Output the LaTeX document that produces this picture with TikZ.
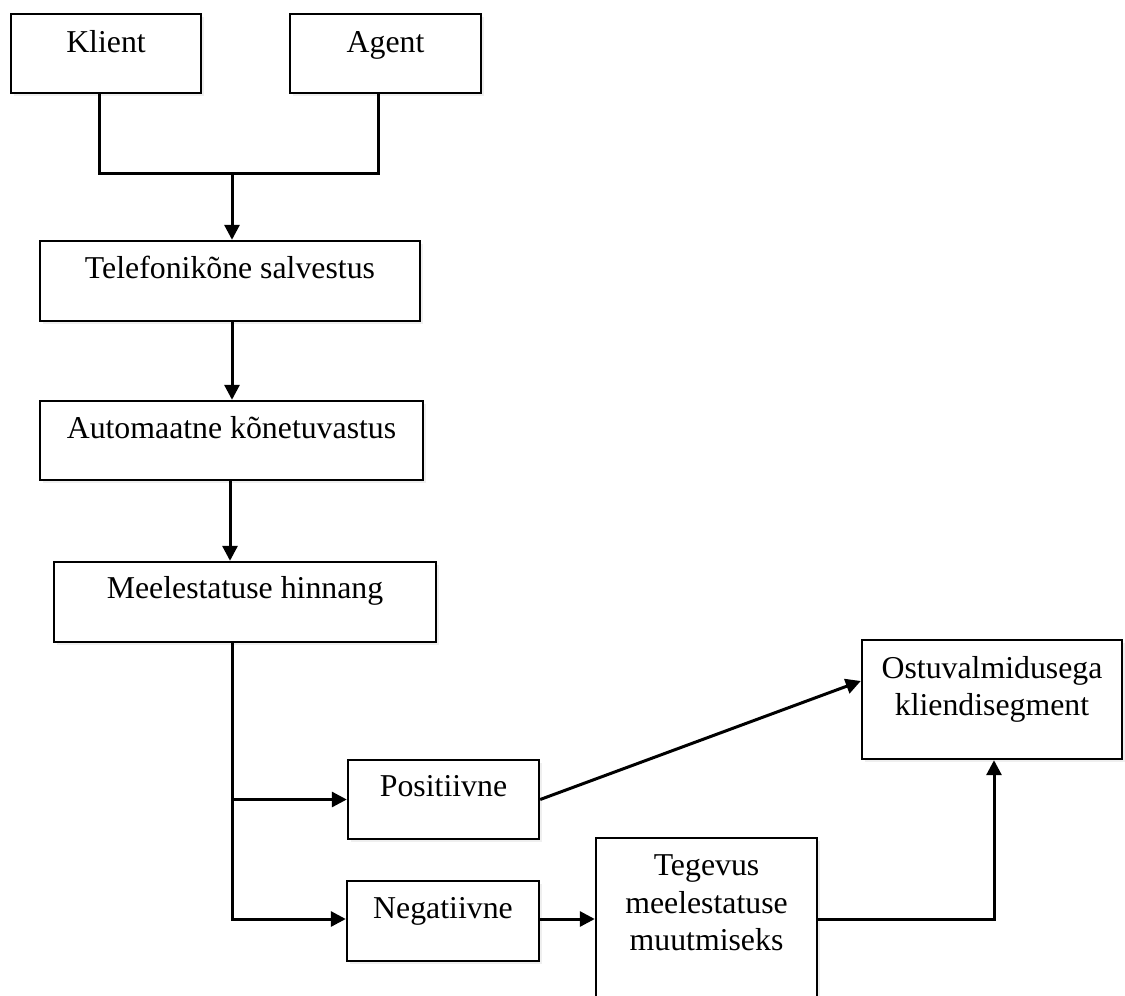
\documentclass[tikz,border=0pt]{standalone}
\usepackage{fontspec}
\setmainfont{Liberation Serif}
\usetikzlibrary{arrows.meta,shadows}
\begin{document}
\begin{tikzpicture}[x=1pt,y=-1pt,
  box/.style={draw,line width=2.4pt,rectangle,inner sep=0pt,fill=white,
    drop shadow={opacity=0.12,shadow xshift=3pt,shadow yshift=-3pt}},
  lbl/.style={anchor=base,inner sep=0pt,align=center,
    font=\fontsize{31.8}{37.5}\selectfont},
  conn/.style={line width=3pt},
  arr/.style={conn,-{Triangle[length=15pt,width=15pt]}}]
\clip (0,0) rectangle (1125,996);
\fill[white] (0,0) rectangle (1125,996);
% boxes
\node[box,minimum width=190pt,minimum height=79pt] (klient) at (106,53.5) {};
\node[box,minimum width=191pt,minimum height=79pt] (agent) at (385.5,53.5) {};
\node[box,minimum width=380pt,minimum height=80pt] (tel) at (230,281) {};
\node[box,minimum width=383pt,minimum height=79pt] (auto) at (231.5,440.5) {};
\node[box,minimum width=382pt,minimum height=80pt] (meel) at (245,602) {};
\node[box,minimum width=191pt,minimum height=79pt] (pos) at (443.5,799.5) {};
\node[box,minimum width=192pt,minimum height=80pt] (neg) at (443,921) {};
\node[box,minimum width=221pt,minimum height=180pt] (teg) at (706.5,928) {};
\node[box,minimum width=260pt,minimum height=119pt] (ostu) at (992,699.5) {};
% labels
\node[lbl] (klientT) at ([yshift=-40pt]klient.north) {Klient};
\node[lbl] (agentT) at ([yshift=-40pt]agent.north) {Agent};
\node[lbl] (telT) at ([yshift=-39pt]tel.north) {Telefonikõne salvestus};
\node[lbl] (autoT) at ([yshift=-39pt]auto.north) {Automaatne kõnetuvastus};
\node[lbl] (meelT) at ([yshift=-38pt]meel.north) {Meelestatuse hinnang};
\node[lbl] (posT) at ([yshift=-38pt]pos.north) {Positiivne};
\node[lbl] (negT) at ([yshift=-39pt]neg.north) {Negatiivne};
\node[lbl] (ostuT) at ([yshift=-77pt]ostu.north) {Ostuvalmidusega\\kliendisegment};
\node[lbl] (tegT) at ([yshift=-114pt]teg.north) {Tegevus\\meelestatuse\\muutmiseks};
% connectors
\coordinate (j) at (232,173);
\draw[conn] ([xshift=-7pt]klient.south) |- (j) -| ([xshift=-7.5pt]agent.south);
\draw[arr] (j) -- (j |- tel.north);
\draw[arr] ([xshift=2pt]tel.south) -- ([xshift=2pt]tel.south |- auto.north);
\draw[arr] ([xshift=-1.5pt]auto.south) -- ([xshift=-1.5pt]auto.south |- meel.north);
\coordinate (trunk) at ([xshift=-13pt]meel.south);
\draw[arr] (trunk) |- ([yshift=2pt]neg.west);
\draw[arr] (trunk |- pos.west) -- (pos.west);
\draw[arr] (pos.east) -- ([yshift=18.5pt]ostu.west);
\draw[arr] ([yshift=2pt]neg.east) -- ([yshift=2pt]neg.east -| teg.west);
\draw[arr] ([yshift=2pt]neg.east -| teg.east) -| ([xshift=2pt]ostu.south);
\end{tikzpicture}
\end{document}
